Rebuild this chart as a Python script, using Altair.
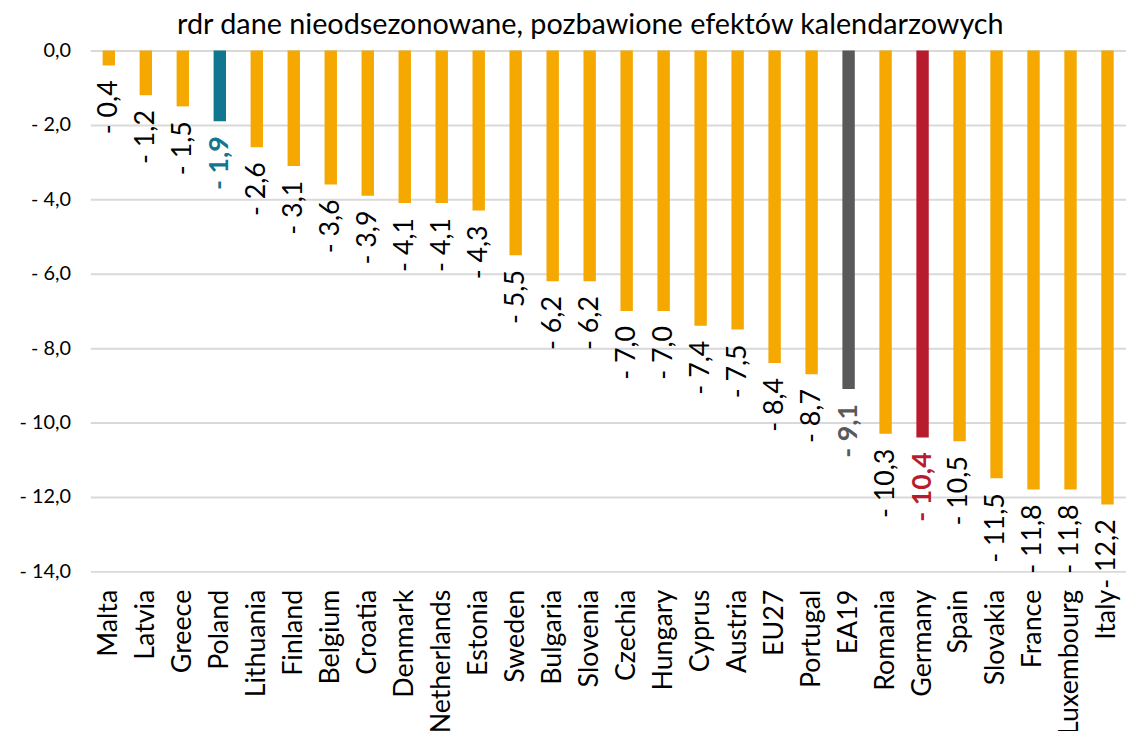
import altair as alt
import pandas as pd

countries = ["Malta", "Latvia", "Greece", "Poland", "Lithuania", "Finland", "Belgium",
             "Croatia", "Denmark", "Netherlands", "Estonia", "Sweden", "Bulgaria",
             "Slovenia", "Czechia", "Hungary", "Cyprus", "Austria", "EU27", "Portugal",
             "EA19", "Romania", "Germany", "Spain", "Slovakia", "France", "Luxembourg", "Italy"]
values = [-0.4, -1.2, -1.5, -1.9, -2.6, -3.1, -3.6, -3.9, -4.1, -4.1, -4.3, -5.5, -6.2,
          -6.2, -7.0, -7.0, -7.4, -7.5, -8.4, -8.7, -9.1, -10.3, -10.4, -10.5, -11.5,
          -11.8, -11.8, -12.2]
groups = ["other"] * len(countries)
groups[countries.index("Poland")] = "PL"
groups[countries.index("EA19")] = "EA"
groups[countries.index("Germany")] = "DE"

group_domain = ["other", "PL", "EA", "DE"]
bar_colors = ["#F5A800", "#11768F", "#58595B", "#B91B2E"]
label_colors = ["#000000", "#11768F", "#58595B", "#B91B2E"]

df = pd.DataFrame({"country": countries, "value": values, "group": groups})
df["label_color"] = [label_colors[group_domain.index(g)] for g in groups]

FONT = "Lato"

x = alt.X("country:N", sort=countries, title=None,
          scale=alt.Scale(paddingInner=0.665, paddingOuter=0.3325),
          axis=alt.Axis(labelAngle=-90, labelAlign="right", labelBaseline="middle",
                        labelFontSize=27, labelColor="#000000", labelFont=FONT,
                        labelPadding=18, ticks=False, domain=False, grid=False))
y = alt.Y("value:Q", title=None,
          scale=alt.Scale(domain=[-14, 0], nice=False),
          axis=alt.Axis(values=[0, -2, -4, -6, -8, -10, -12, -14],
                        labelExpr="datum.value == 0 ? '0,0' : '- ' + replace(format(abs(datum.value), '.1f'), '.', ',')",
                        labelFontSize=20, labelColor="#000000", labelFont=FONT,
                        labelPadding=20, ticks=False, domain=False,
                        grid=True, gridColor="#D9D9D9", gridWidth=2))

base = alt.Chart(df).transform_calculate(
    label="'- ' + replace(format(abs(datum.value), '.1f'), '.', ',')"
)

bars = base.mark_bar().encode(
    x=x, y=y,
    color=alt.Color("group:N", scale=alt.Scale(domain=group_domain, range=bar_colors), legend=None),
)

text_kw = dict(angle=270, align="right", baseline="middle", dx=-15, fontSize=27, font=FONT)

labels_normal = base.transform_filter("datum.group == 'other'").mark_text(**text_kw).encode(
    x=x, y=y, text="label:N",
    color=alt.Color("label_color:N", scale=None),
)
labels_bold = base.transform_filter("datum.group != 'other'").mark_text(fontWeight="bold", **text_kw).encode(
    x=x, y=y, text="label:N",
    color=alt.Color("label_color:N", scale=None),
)

chart = alt.layer(bars, labels_normal, labels_bold).properties(
    width=1044, height=525,
    padding={"left": 83, "top": 40, "right": 0, "bottom": 158},
    autosize=alt.AutoSizeParams(type="none"),
    title=alt.TitleParams("rdr dane nieodsezonowane, pozbawione efektów kalendarzowych",
                          fontSize=29, font=FONT, fontWeight="normal", color="#000000",
                          anchor="middle", dx=-18, offset=1),
).configure_view(stroke=None)

chart.save("out.html", embed_options={"renderer": "svg", "actions": False})
